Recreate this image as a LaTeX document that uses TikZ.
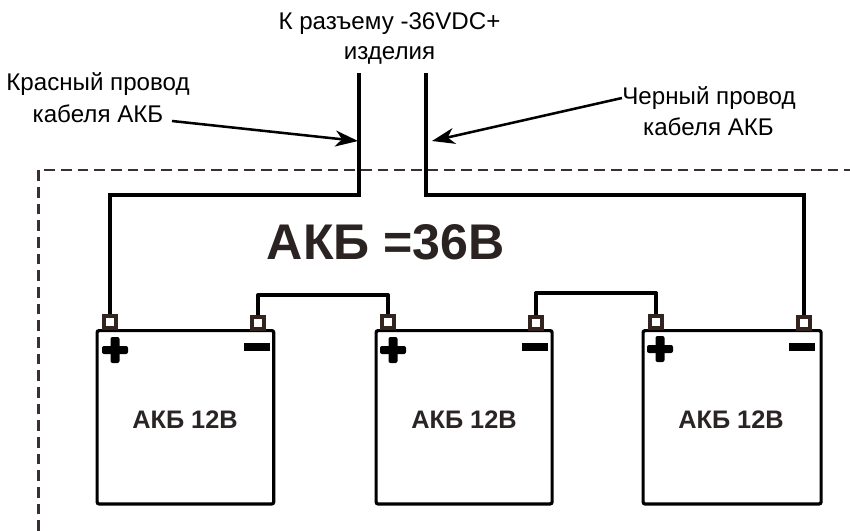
\documentclass[tikz,border=0pt]{standalone}
\usepackage{fontspec}
\setmainfont{Liberation Sans}
\usetikzlibrary{arrows.meta}
\definecolor{dashc}{HTML}{3A3030}
\definecolor{termc}{HTML}{33241F}
\definecolor{titlec}{HTML}{2B2222}
\definecolor{batc}{HTML}{2A2424}
\tikzset{
  x=0.75pt,y=-0.75pt,
  battery/.style={draw=black,line width=2.4pt,rounded corners=1.5pt,minimum width=132.5pt,minimum height=130pt,inner sep=0pt,anchor=north west},
  batlabel/.style={font=\bfseries\fontsize{19}{22}\selectfont,text=batc,inner sep=0pt},
  terminal/.style={draw=termc,line width=2.6pt,fill=white,minimum size=9pt,inner sep=0pt},
  mainwire/.style={draw=black,line width=2.5pt,line join=miter},
  linkwire/.style={draw=black,line width=2.5pt,line join=round},
  boundary/.style={draw=dashc,line width=1.7pt,dash pattern=on 8pt off 4.5pt},
  label/.style={font=\fontsize{18.1}{22}\selectfont,inner sep=0pt,text=black},
  pointer/.style={draw=black,line width=1.9pt,-{Stealth[inset=5pt,length=17pt,width=12pt]}},
  plusbar/.style={fill=black,rounded corners=1.5pt},
  minusmark/.style={fill=black,inner sep=0pt,minimum width=19pt,minimum height=6pt}
}
\newcommand{\plussign}[2]{%
  \fill[plusbar] (#1-13,#2-4) rectangle (#1+13,#2+4);
  \fill[plusbar] (#1-4.5,#2-13) rectangle (#1+4.5,#2+13);
}
\begin{document}
\begin{tikzpicture}
\useasboundingbox (0,0) rectangle (850,531);
% boundary
\coordinate (bs) at (38.5,531);
\coordinate (bc) at (38.5,170);
\coordinate (be) at (850,170);
\draw[boundary] (bs) -- (bc) -- (be);
% batteries
\node[battery] (b1) at (95.5,329) {};
\node[battery,minimum width=132pt] (b2) at (374.5,329) {};
\node[battery,minimum width=133.5pt] (b3) at (641.5,329) {};
\node[batlabel] (n1) at (185,420) {АКБ 12В};
\node[batlabel] (n2) at (464,420) {АКБ 12В};
\node[batlabel] (n3) at (731,420) {АКБ 12В};
% wires first, terminals above
\coordinate (lt) at (359,73);
\coordinate (rt) at (426,73);
\coordinate (lc) at (359,195);
\coordinate (rc) at (426,195);
\coordinate (l1) at (258,295);
\coordinate (l2) at (388,295);
\coordinate (l3) at (536,293);
\coordinate (l4) at (656,293);
\node[terminal] (t1) at (110,322) {};
\node[terminal] (t2) at (258,323) {};
\node[terminal] (t3) at (388,322) {};
\node[terminal] (t4) at (536,323) {};
\node[terminal] (t5) at (656,322) {};
\node[terminal] (t6) at (804,323) {};
\draw[mainwire] (t1.north) -- (t1.north |- lc) -- (lc) -- (lt);
\draw[mainwire] (t6.north) -- (t6.north |- rc) -- (rc) -- (rt);
\draw[linkwire] (t2.north) -- (l1) -- (l2) -- (t3.north);
\draw[linkwire] (t4.north) -- (l3) -- (l4) -- (t5.north);
% polarity marks
\plussign{115}{350}
\plussign{393}{350}
\plussign{660}{349}
\node[minusmark] (m1) at (257,347) {};
\node[minusmark] (m2) at (535,347) {};
\node[minusmark] (m3) at (802,347) {};
% labels
\node[font=\bfseries\fontsize{37.6}{44}\selectfont,text=titlec,inner sep=0pt] (title) at (386,242) {АКБ =36В};
\node[label] (top) at (389.5,24) {К разъему -36VDC+};
\node[label] (top2) at (389.5,55) {изделия};
\node[label] (r1) at (98,84) {Красный провод};
\node[label] (r2) at (98,114) {кабеля АКБ};
\node[label] (k1) at (709,98) {Черный провод};
\node[label] (k2) at (708.5,127) {кабеля АКБ};
\coordinate (ra) at (172,121);
\coordinate (rh) at (358,141);
\coordinate (ka) at (622,98);
\coordinate (kh) at (432,141);
\draw[pointer] (ra) -- (rh);
\draw[pointer] (ka) -- (kh);
\end{tikzpicture}
\end{document}
